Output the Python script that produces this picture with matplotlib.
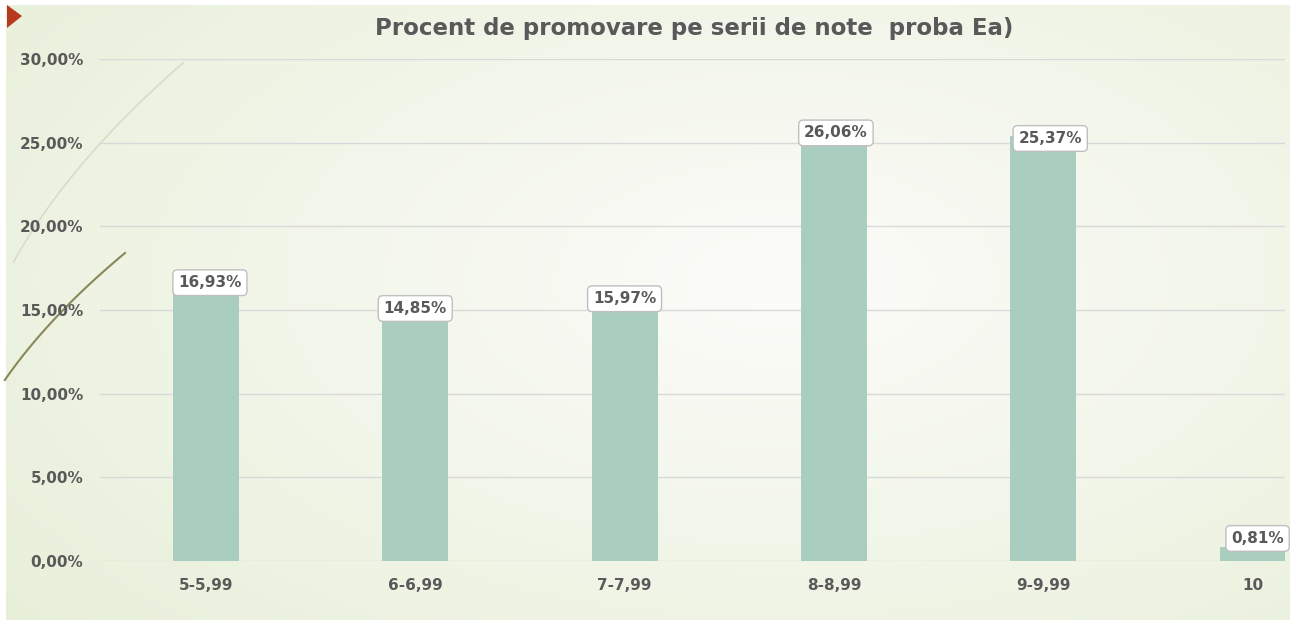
import numpy as np
import matplotlib.pyplot as plt
from matplotlib.patches import Polygon

categories = ['5-5,99', '6-6,99', '7-7,99', '8-8,99', '9-9,99', '10']
values = [16.93, 14.85, 15.97, 26.06, 25.37, 0.81]
labels = ['16,93%', '14,85%', '15,97%', '26,06%', '25,37%', '0,81%']
yticks = [0, 5, 10, 15, 20, 25, 30]
ytick_labels = ['0,00%', '5,00%', '10,00%', '15,00%', '20,00%', '25,00%', '30,00%']
# callout nudges in pixels (dx, dy up), as placed in the original chart
label_nudge = [(4, -5), (0, 4), (0, -5), (2, -8), (7, -2), (5, 9)]

W, H = 1293, 626
fig = plt.figure(figsize=(W / 100, H / 100), dpi=100)
fig.patch.set_facecolor('white')
plt.rcParams['font.family'] = ['DejaVu Sans']

# background gradient (slide), drawn in pixel coords
bg = fig.add_axes([0, 0, 1, 1])
bg.patch.set_facecolor('white')
yy, xx = np.mgrid[0:1:300j, 0:1:600j]
d = np.sqrt(((xx - 0.6) / 0.85) ** 2 + ((yy - 0.45) / 0.95) ** 2)
d = np.clip(d, 0, 1)
c0 = np.array([252, 252, 249]) / 255
c1 = np.array([230, 238, 214]) / 255
img = c0[None, None, :] * (1 - d[..., None]) + c1[None, None, :] * d[..., None]
bg.imshow(img, extent=[6, W - 3, H - 6, 5], aspect='auto', origin='upper')
bg.set_xlim(0, W)
bg.set_ylim(H, 0)
bg.axis('off')

# decorative arcs on the left
yy1 = np.linspace(63, 262, 100)
bg.plot(183 - 1.15 * (yy1 - 63) + 0.0015 * (yy1 - 63) ** 2, yy1, color='#d9dcc8', lw=1.2)
yy2 = np.linspace(253, 380, 100)
bg.plot(125 - 1.2 * (yy2 - 253) + 0.002 * (yy2 - 253) ** 2, yy2, color='#8a875a', lw=1.5)

# red marker at top left
bg.add_patch(Polygon([[7, 5], [22, 16], [7, 28]], closed=True,
                     facecolor='#b83a1e', edgecolor='none'))

ax = fig.add_axes([100 / W, 1 - 561 / H, 1185 / W, 502 / H])
ax.patch.set_alpha(0)
x = np.arange(len(categories))
ax.bar(x, values, width=0.315, color='#a9cdbf', zorder=3)
ax.set_xlim(-0.506, 5.155)
ax.set_ylim(0, 30)
ax.set_yticks(yticks)
ax.set_yticklabels(ytick_labels)
ax.set_xticks(x)
ax.set_xticklabels(categories)
ax.grid(axis='y', color='#d9d9d9', lw=1, zorder=0)
for s in ax.spines.values():
    s.set_visible(False)
ax.tick_params(length=0, colors='#595959', labelsize=11)
ax.tick_params(axis='y', pad=12)
ax.tick_params(axis='x', pad=12)
for lab in ax.get_xticklabels() + ax.get_yticklabels():
    lab.set_fontweight('bold')

for xi, v, lab, (dx, dy) in zip(x, values, labels, label_nudge):
    ax.annotate(lab, (xi, v), xytext=(dx * 0.72, dy * 0.72), textcoords='offset points',
                ha='center', va='center', fontsize=11, fontweight='bold',
                color='#595959', zorder=5,
                bbox=dict(boxstyle='round,pad=0.35,rounding_size=0.3', fc='white',
                          ec='#bfbfbf', lw=1))

fig.text(0.537, 1 - 28 / H, 'Procent de promovare pe serii de note  proba Ea)',
         ha='center', va='center', fontsize=16.5, fontweight='bold', color='#595959')

fig.savefig('out.png', dpi=100)
